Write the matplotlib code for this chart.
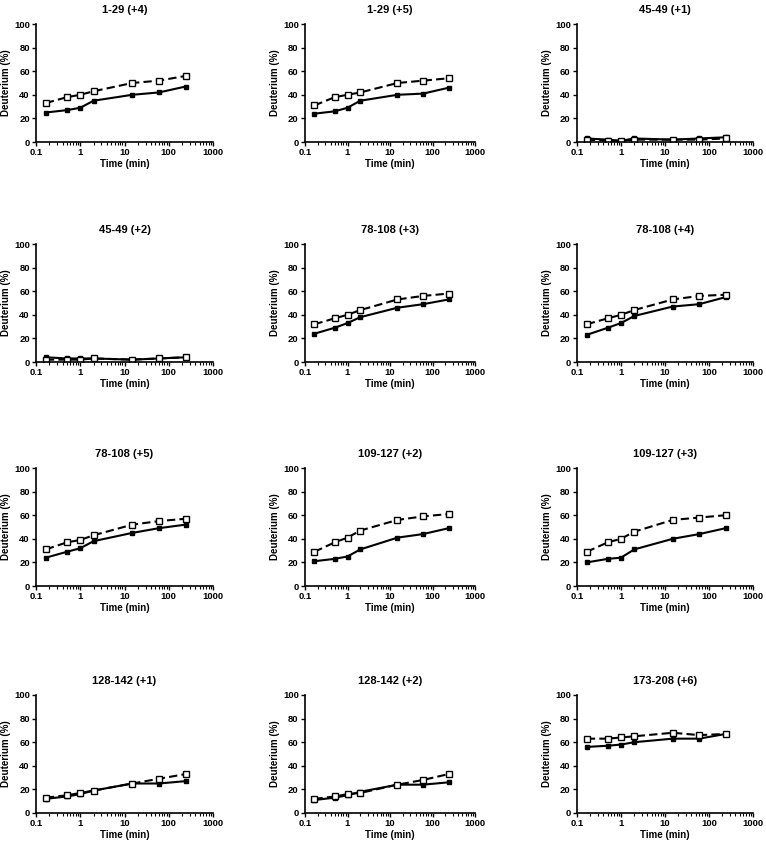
import numpy as np
import matplotlib
matplotlib.use("Agg")
import matplotlib.pyplot as plt

plt.rcParams['font.family'] = ['Liberation Sans', 'DejaVu Sans']
plt.rcParams['font.weight'] = 'bold'

# Time points (min)
time = [0.167, 0.5, 1, 2, 15, 60, 240]

titles = ["1-29 (+4)", "1-29 (+5)", "45-49 (+1)",
          "45-49 (+2)", "78-108 (+3)", "78-108 (+4)",
          "78-108 (+5)", "109-127 (+2)", "109-127 (+3)",
          "128-142 (+1)", "128-142 (+2)", "173-208 (+6)"]

# filled squares / solid line
filled = [
    [25, 27, 29, 35, 40, 42, 47],
    [24, 26, 29, 35, 40, 41, 46],
    [3, 2, 1, 3, 2, 3, 4],
    [4, 3, 3, 3, 2, 3, 4],
    [24, 29, 33, 38, 46, 49, 53],
    [23, 29, 33, 39, 47, 49, 55],
    [24, 29, 32, 38, 45, 49, 52],
    [21, 23, 25, 31, 41, 44, 49],
    [20, 23, 24, 31, 40, 44, 49],
    [12, 14, 16, 19, 25, 25, 27],
    [11, 13, 15, 18, 24, 24, 26],
    [56, 57, 58, 60, 63, 63, 67],
]

# open squares / dashed line
opened = [
    [33, 38, 40, 43, 50, 52, 56],
    [31, 38, 40, 42, 50, 52, 54],
    [2, 1, 1, 2, 2, 2, 3],
    [2, 2, 2, 3, 2, 3, 4],
    [32, 37, 40, 44, 53, 56, 58],
    [32, 37, 40, 44, 53, 56, 57],
    [31, 37, 39, 43, 52, 55, 57],
    [29, 37, 41, 47, 56, 59, 61],
    [29, 37, 40, 46, 56, 58, 60],
    [13, 15, 17, 19, 25, 29, 33],
    [12, 14, 16, 17, 24, 28, 33],
    [63, 63, 64, 65, 68, 66, 67],
]

W, H = 766, 844
fig = plt.figure(figsize=(W / 100, H / 100), dpi=100)

col_left = [36, 305, 577]
col_width = [177, 170, 176]
row_base = [142, 362, 586, 813]
ax_h = 118

for i, title in enumerate(titles):
    r, c = divmod(i, 3)
    ax = fig.add_axes([col_left[c] / W, 1 - row_base[r] / H,
                       col_width[c] / W, ax_h / H])
    ax.plot(time, filled[i], '-', color='black', lw=1.5,
            marker='s', ms=3.2, mfc='black', mec='black')
    ax.plot(time, opened[i], '--', color='black', lw=1.5, dashes=(4, 2),
            marker='s', ms=4.2, mfc='white', mec='black', mew=1)
    ax.set_xscale('log')
    ax.set_xlim(0.1, 1000)
    ax.set_ylim(0, 100)
    ax.set_yticks([0, 20, 40, 60, 80, 100])
    ax.set_xticks([0.1, 1, 10, 100, 1000])
    ax.set_xticklabels(["0.1", "1", "10", "100", "1000"])
    ax.spines['top'].set_visible(False)
    ax.spines['right'].set_visible(False)
    ax.tick_params(labelsize=6.8, length=3, width=1, pad=1.5)
    ax.tick_params(which='minor', length=1.8, width=0.8)
    for s in ['left', 'bottom']:
        ax.spines[s].set_linewidth(1.2)
    ax.set_title(title, fontsize=8, fontweight='bold', pad=8)
    ax.set_ylabel("Deuterium (%)", fontsize=7, fontweight='bold', labelpad=2)
    ax.set_xlabel("Time (min)", fontsize=7, fontweight='bold', labelpad=1)

fig.savefig("out.png", dpi=100)
